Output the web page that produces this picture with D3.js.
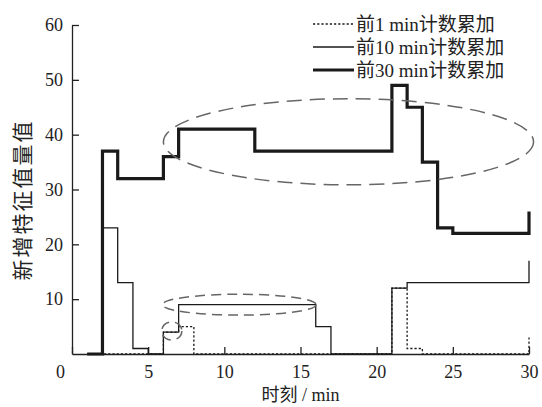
<!DOCTYPE html>
<html>
<head>
<meta charset="utf-8">
<script src="https://cdn.jsdelivr.net/npm/d3@7"></script>
<style>
  body { margin: 0; background: #fff; }
  svg { display: block; }
  .tick text { font-family: "Times New Roman", "Liberation Serif", "Noto Sans CJK SC", serif; font-size: 18px; fill: #222; }
  .domain, .tick line { stroke: #222; stroke-width: 1.3; }
  .title { font-family: "Times New Roman", "Liberation Serif", "Noto Sans CJK SC", serif; fill: #222; }
</style>
</head>
<body>
<div id="chart"></div>
<script>
// step series: value holds from x[i] until x[i+1]
const x1 = [1, 6, 7, 8, 21, 22, 23, 30];
const y1 = [0, 4, 5, 0, 12, 1, 0, 3];

const x10 = [1, 2, 3, 4, 5, 6, 7, 16, 17, 21, 22, 30];
const y10 = [0, 23, 13, 1, 0, 4, 9, 5, 0, 12, 13, 17];

const x30 = [1, 2, 3, 6, 7, 12, 21, 22, 23, 24, 25, 30];
const y30 = [0, 37, 32, 36, 41, 37, 49, 45, 35, 23, 22, 26];

const seriesNames = ['前1 min计数累加', '前10 min计数累加', '前30 min计数累加'];
const xTicks = [0, 5, 10, 15, 20, 25, 30];
const yTicks = [10, 20, 30, 40, 50, 60];

// highlight ellipses in data units: cx, cy, rx, ry
const ellipses = [
  {cx: 18.15, cy: 38.7, rx: 12.15, ry: 7.85},
  {cx: 10.98, cy: 9.0, rx: 5.04, ry: 1.9},
  {cx: 6.55, cy: 4.2, rx: 0.66, ry: 1.65}
];

const width = 542, height = 407;
const margin = {top: 25, right: 13, bottom: 53, left: 72};

const svg = d3.select('#chart').append('svg')
    .attr('width', width)
    .attr('height', height);

const x = d3.scaleLinear().domain([0, 30]).range([margin.left, width - margin.right]);
const y = d3.scaleLinear().domain([0, 60]).range([height - margin.bottom, margin.top]);

// axes, ticks pointing inward
const xAxis = svg.append('g')
    .attr('transform', `translate(0,${y(0)})`)
    .call(d3.axisBottom(x).tickValues(xTicks).tickSizeInner(-7).tickSizeOuter(0).tickPadding(11));
xAxis.selectAll('.tick text').filter(d => d === 0).attr('x', -12);

svg.append('g')
    .attr('transform', `translate(${x(0)},0)`)
    .call(d3.axisLeft(y).tickValues(yTicks).tickSizeInner(-7).tickSizeOuter(0).tickPadding(9));

svg.selectAll('g').attr('font-family', null);

const line = d3.line()
    .x(d => x(d[0]))
    .y(d => y(d[1]))
    .curve(d3.curveStepAfter);

const styles = [
  {w: 1.3, dash: '2.2,2'},
  {w: 1.3, dash: null},
  {w: 3.2, dash: null}
];

const series = [d3.zip(x1, y1), d3.zip(x10, y10), d3.zip(x30, y30)];

svg.selectAll('.series')
    .data(series)
  .join('path')
    .attr('class', 'series')
    .attr('fill', 'none')
    .attr('stroke', '#1a1a1a')
    .attr('stroke-width', (d, i) => styles[i].w)
    .attr('stroke-dasharray', (d, i) => styles[i].dash)
    .attr('d', line);

// dashed ellipses
svg.selectAll('.ring')
    .data(ellipses)
  .join('ellipse')
    .attr('class', 'ring')
    .attr('cx', d => x(d.cx))
    .attr('cy', d => y(d.cy))
    .attr('rx', d => x(d.rx) - x(0))
    .attr('ry', d => y(0) - y(d.ry))
    .attr('fill', 'none')
    .attr('stroke', '#666')
    .attr('stroke-width', 1.5)
    .attr('stroke-dasharray', (d, i) => i === 0 ? '15,8' : '10,6');

// legend
const legend = svg.append('g').attr('transform', 'translate(313,24)');
const rows = legend.selectAll('g')
    .data(seriesNames)
  .join('g')
    .attr('transform', (d, i) => `translate(0,${i * 23})`);
rows.append('line')
    .attr('x1', 0).attr('x2', 41)
    .attr('stroke', '#1a1a1a')
    .attr('stroke-width', (d, i) => styles[i].w)
    .attr('stroke-dasharray', (d, i) => styles[i].dash);
rows.append('text')
    .attr('class', 'title')
    .attr('x', 43)
    .attr('dy', '0.35em')
    .attr('font-size', 19)
    .text(d => d);

// axis titles
svg.append('text')
    .attr('class', 'title')
    .attr('x', (x(0) + x(30)) / 2)
    .attr('y', 395)
    .attr('dy', '0.35em')
    .attr('text-anchor', 'middle')
    .attr('font-size', 18)
    .text('时刻 / min');

svg.append('text')
    .attr('class', 'title')
    .attr('transform', 'translate(23,200) rotate(-90)')
    .attr('dy', '0.35em')
    .attr('text-anchor', 'middle')
    .attr('font-size', 21)
    .attr('letter-spacing', 2)
    .text('新增特征值量值');
</script>
</body>
</html>
